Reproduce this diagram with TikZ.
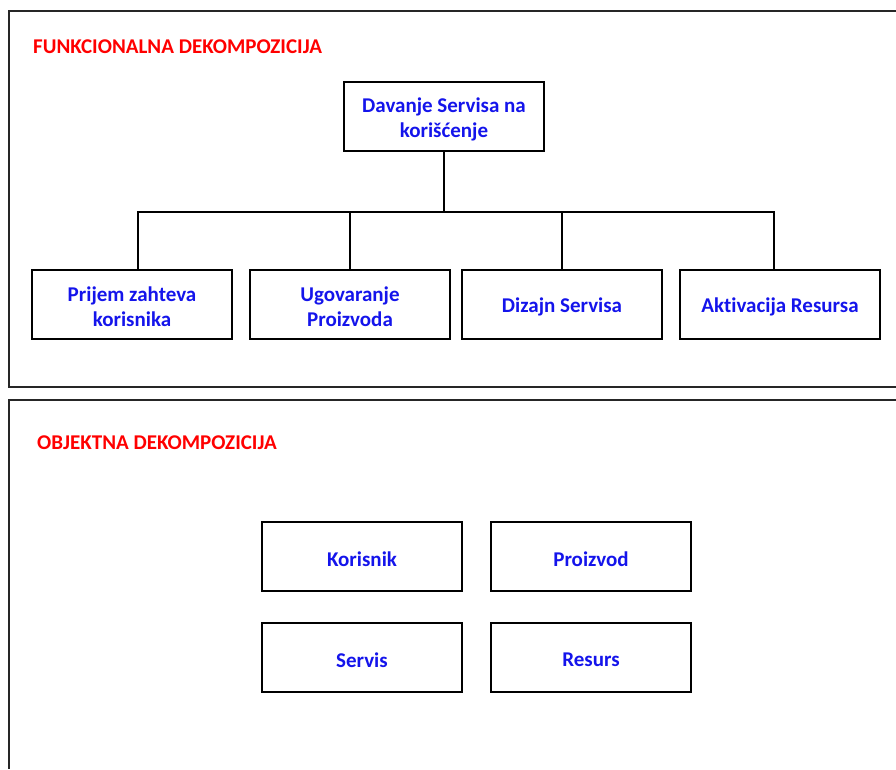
\documentclass[tikz,border=0pt]{standalone}
\usepackage{fontspec}
\setmainfont[Ligatures={NoCommon,NoRare,NoContextual},Contextuals=NoAlternate]{Carlito}
\definecolor{txtblue}{RGB}{20,20,235}
\definecolor{ttlred}{RGB}{255,0,0}
\begin{document}
\begin{tikzpicture}[x=1pt,y=-1pt,
  frame/.style={draw=black!85,line width=1.6pt},
  boxtext/.style={align=center,inner sep=0pt,yshift=-2.5pt,
    font=\fontsize{21}{25}\selectfont\bfseries,text=txtblue},
  boxnode/.style={draw=black,line width=1.4pt,minimum width=200pt,minimum height=69pt,
    inner sep=0pt,label={[boxtext]center:{#1}}},
  title/.style={anchor=west,inner sep=0pt,font=\fontsize{21}{25}\selectfont\bfseries,text=ttlred},
  conn/.style={draw=black,line width=1.3pt}]
\useasboundingbox (0,0) rectangle (896,769);
% outer frames
\draw[frame] (896,11) -- (9,11) -- (9,387) -- (896,387);
\draw[frame] (896,400) -- (9,400) -- (9,769);
% titles
\node[title] (t1) at (33,47) {FUNKCIONALNA DEKOMPOZICIJA};
\node[title] (t2) at (37,443) {OBJEKTNA DEKOMPOZICIJA};
% functional
\node[boxnode={Davanje Servisa na\\korišćenje}] (root) at (444,116.5) {};
\node[boxnode={Prijem zahteva\\korisnika}] (c1) at (132,304.5) {};
\node[boxnode={Ugovaranje\\Proizvoda}] (c2) at (350,304.5) {};
\node[boxnode={Dizajn Servisa}] (c3) at (562,304.5) {};
\node[boxnode={Akt\kern0ptivacija Resursa}] (c4) at (780,304.5) {};
\coordinate (j) at (444,212);
\draw[conn] (root.south) -- (j);
\draw[conn] (c1.north -| 138,0) |- (j);
\draw[conn] (c4.north -| 774,0) |- (j);
\draw[conn] (c2.north) -- (c2.north |- j);
\draw[conn] (c3.north) -- (c3.north |- j);
% objects
\node[boxnode={Korisnik}] (o1) at (362,556.5) {};
\node[boxnode={Proizvod}] (o2) at (591,556.5) {};
\node[boxnode={Servis}] (o3) at (362,657.5) {};
\node[boxnode={Resurs}] (o4) at (591,657.5) {};
\end{tikzpicture}
\end{document}
